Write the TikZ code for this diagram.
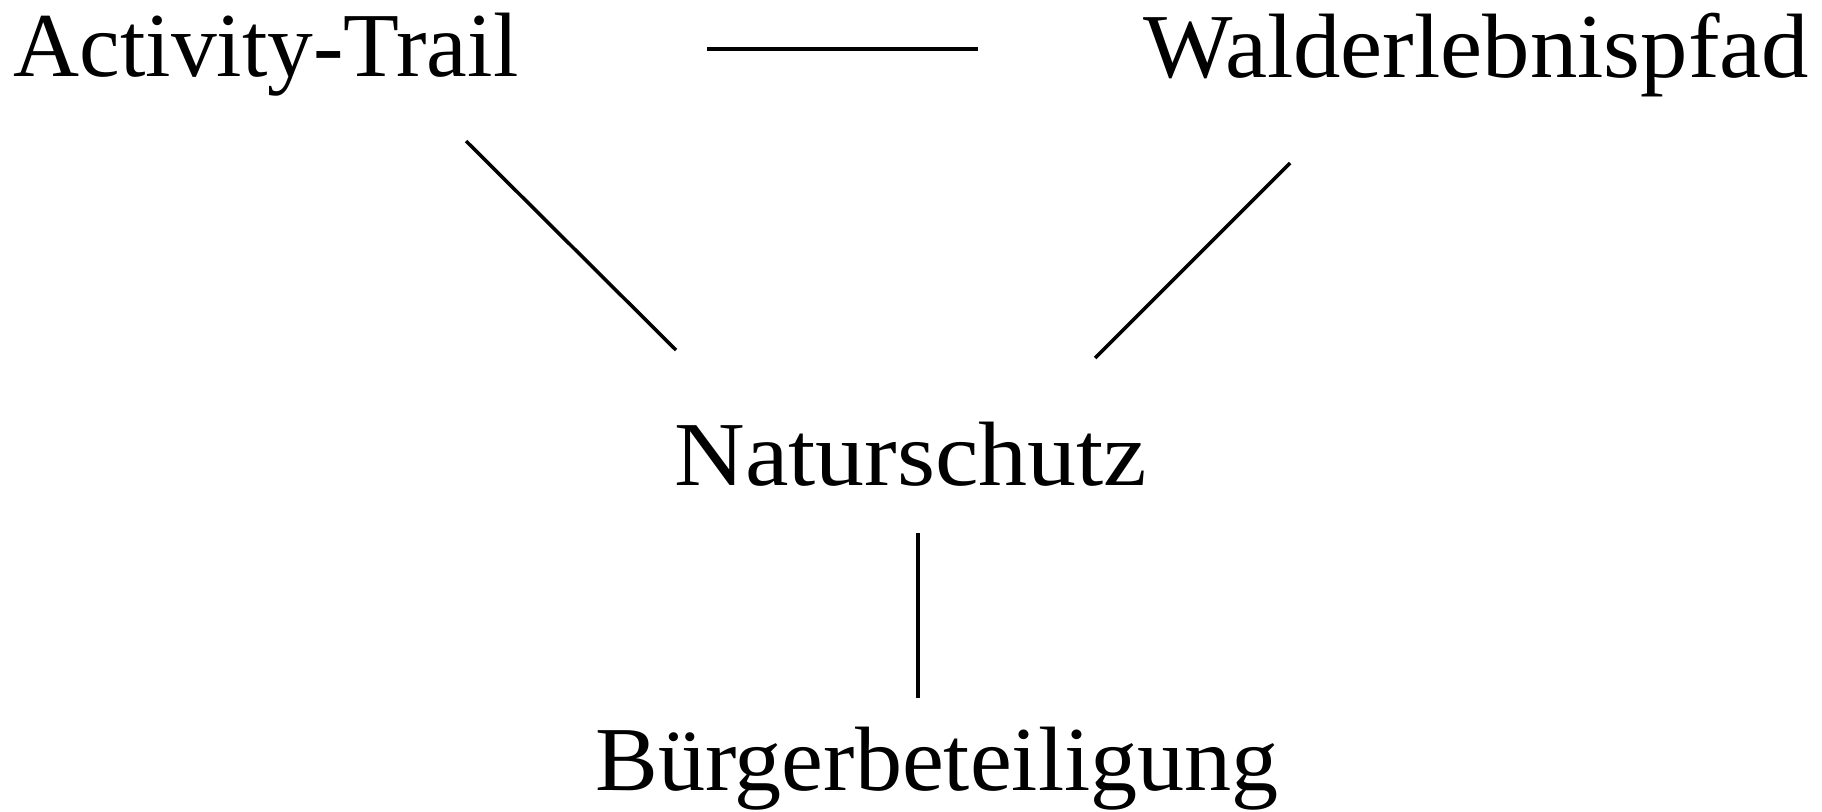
\documentclass[tikz,border=0pt]{standalone}
\usepackage{fontspec}
\setmainfont{Liberation Serif}
\usetikzlibrary{calc}

\begin{document}
\begin{tikzpicture}[x=0.01cm, y=-0.01cm, line width=1pt,
	term/.style={anchor=base, inner sep=0pt, font=\fontsize{26}{30}\selectfont}]
	\useasboundingbox (0, 0) rectangle (1822, 811);
	\node[term] (at) at (266, 76) {Activity-Trail};
	\node[term] (we) at (1476, 77) {\scalebox{1.036}[1]{Walderlebnispfad}};
	\node[term] (ns) at (911, 485) {\scalebox{1.07}[1]{Naturschutz}};
	\node[term] (bb) at (937, 790) {\scalebox{1.03}[1]{Bürgerbeteiligung}};
	\draw ($(at.base)+(441, -27)$) -- ($(we.base)+(-498, -28)$);
	\draw ($(at.base)+(200, 65)$) -- ($(ns.base)+(-235, -135)$);
	\draw ($(we.base)+(-186, 86)$) -- ($(ns.base)+(184, -127)$);
	\draw ($(ns.base)+(7, 48)$) -- ($(bb.base)+(-19, -92)$);
\end{tikzpicture}
\end{document}
